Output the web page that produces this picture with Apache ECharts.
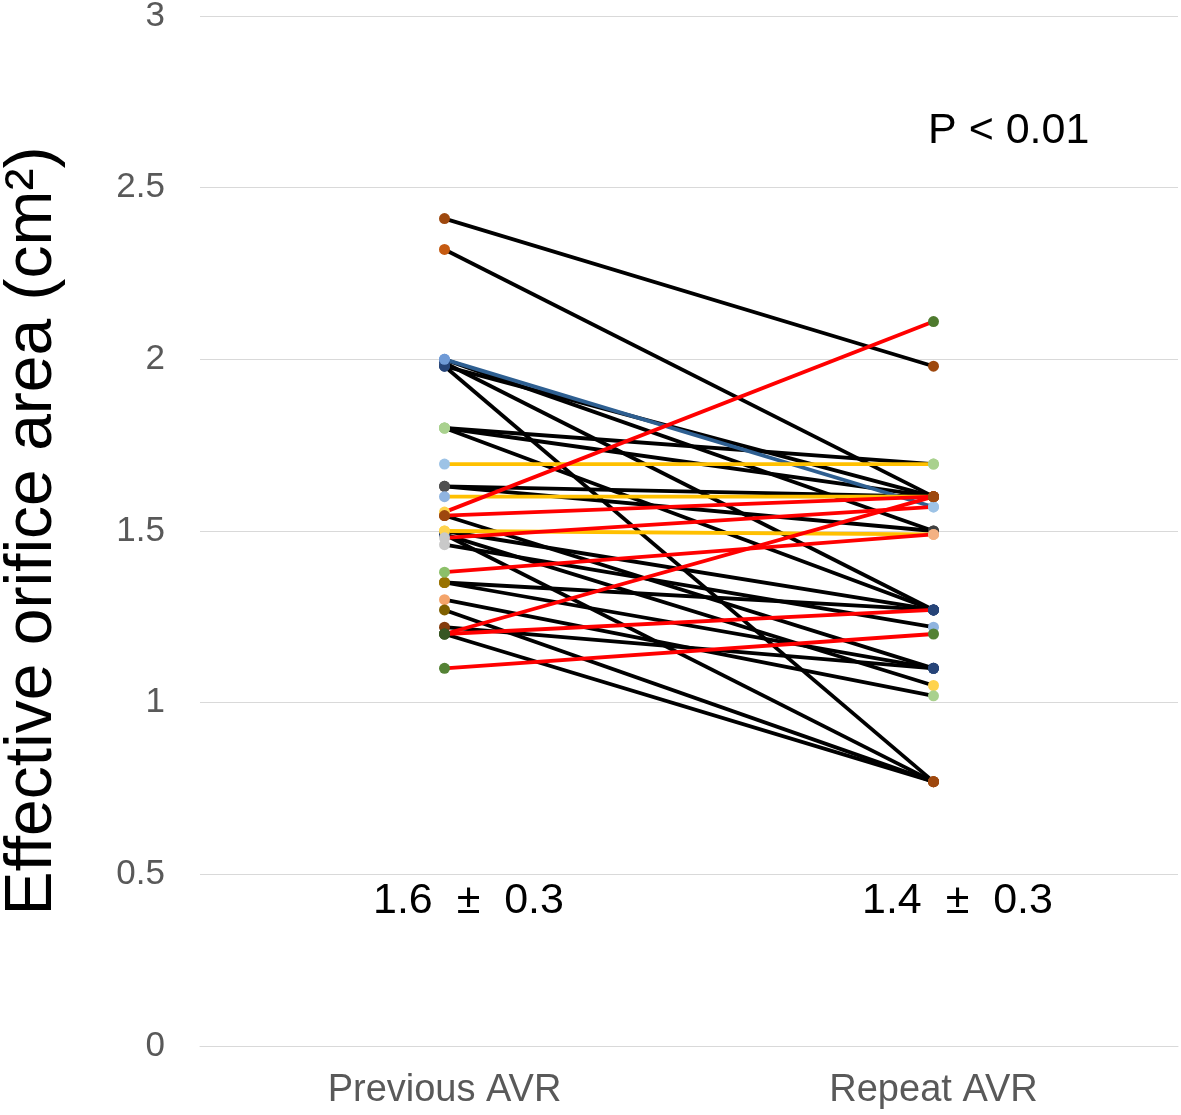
<!DOCTYPE html>
<html>
<head>
<meta charset="utf-8">
<script src="https://cdn.jsdelivr.net/npm/echarts@6/dist/echarts.min.js"></script>
<style>html,body{margin:0;padding:0;background:#fff}#c{width:1181px;height:1115px}</style>
</head>
<body>
<div id="c"></div>
<script>
const categories = ['Previous AVR', 'Repeat AVR'];
const yTicks = [0, 0.5, 1, 1.5, 2, 2.5, 3];
const previousEOA = [2.41, 2.32, 2.00, 2.00, 1.99, 1.98, 1.98, 1.80, 1.80, 1.80, 1.695, 1.63, 1.63, 1.60, 1.555, 1.545, 1.545, 1.50, 1.50, 1.49, 1.49, 1.48, 1.46, 1.38, 1.35, 1.35, 1.30, 1.27, 1.22, 1.20, 1.20, 1.20, 1.10];
const repeatEOA   = [1.98, 1.60, 1.57, 1.50, 1.27, 0.77, 1.60, 1.695, 1.60, 1.27, 1.695, 1.60, 1.50, 1.60, 2.11, 1.60, 1.10, 1.49, 1.27, 1.05, 0.77, 1.57, 1.22, 1.49, 1.27, 1.10, 1.02, 0.77, 1.10, 1.60, 1.27, 0.77, 1.20];
const lineKind    = ['k','k','b','k','k','k','k','k','k','k','y','k','k','y','r','r','k','y','k','k','k','r','k','r','k','k','k','k','k','r','r','k','r'];
const prevMarker  = ['#9e480e','#c55a11','#6f9ad6','#6f9ad6','#264478','#264478','#264478','#a9d18e','#a9d18e','#a9d18e','#9dc3e6','#505050','#505050','#8fb4e0','#ffd34d','#9e480e','#9e480e','#ffd34d','#ffd34d','#264478','#264478','#c9c9c9','#c9c9c9','#8cc06a','#997300','#997300','#f4a46a','#7f6000','#843c0c','#375623','#375623','#375623','#548235'];
const repMarker   = ['#9e480e','#9e480e','#9dc3e6','#404040','#264478','#9e480e','#9e480e','#a9d18e','#9e480e','#264478','#a9d18e','#9e480e','#404040','#9e480e','#4e7a2e','#9e480e','#264478','#f4b183','#264478','#ffd34d','#9e480e','#9dc3e6','#8fb4e0','#f4b183','#264478','#264478','#a9d18e','#9e480e','#264478','#9e480e','#264478','#9e480e','#548235'];
const lineColorMap = { k: '#000000', r: '#ff0000', y: '#ffc000', b: '#2e5f91' };

const order = ['k','b','y','r'];
const series = [];
order.forEach(kind => {
  previousEOA.forEach((p, i) => {
    if (lineKind[i] !== kind) return;
    series.push({
      type: 'line',
      data: [
        { value: p, itemStyle: { color: prevMarker[i] } },
        { value: repeatEOA[i], itemStyle: { color: repMarker[i] } }
      ],
      symbol: 'circle',
      symbolSize: 11,
      showSymbol: true,
      lineStyle: { color: lineColorMap[kind], width: 3.8 },
      itemStyle: { borderWidth: 0 },
      emphasis: { disabled: true },
      animation: false,
      z: 2
    });
  });
});

const font = 'Liberation Sans, Arial, sans-serif';
const chart = echarts.init(document.getElementById('c'));
chart.setOption({
  backgroundColor: '#ffffff',
  animation: false,
  grid: { left: 200, right: 3, top: 16, bottom: 69, containLabel: false, outerBoundsMode: 'none' },
  xAxis: {
    type: 'category',
    data: categories,
    boundaryGap: true,
    axisLine: { show: true, lineStyle: { color: '#d9d9d9' } },
    axisTick: { show: false },
    axisLabel: { color: '#595959', fontSize: 38, margin: 26, fontFamily: font }
  },
  yAxis: {
    type: 'value',
    min: yTicks[0],
    max: yTicks[yTicks.length - 1],
    interval: 0.5,
    name: 'Effective orifice area (cm²)',
    nameLocation: 'middle',
    nameGap: 134,
    nameTextStyle: { color: '#000', fontSize: 66, fontFamily: font },
    axisLine: { show: false },
    axisTick: { show: false },
    splitLine: { lineStyle: { color: '#d9d9d9', width: 1 } },
    axisLabel: { color: '#595959', fontSize: 35, margin: 35, fontFamily: font }
  },
  graphic: [
    { type: 'text', left: 928, top: 110, style: { text: 'P < 0.01', fontSize: 43, fill: '#000', fontFamily: font } },
    { type: 'text', left: 373, top: 880, style: { text: '1.6  ±  0.3', fontSize: 43, fill: '#000', fontFamily: font } },
    { type: 'text', left: 862, top: 880, style: { text: '1.4  ±  0.3', fontSize: 43, fill: '#000', fontFamily: font } }
  ],
  series: series
});
</script>
</body>
</html>
